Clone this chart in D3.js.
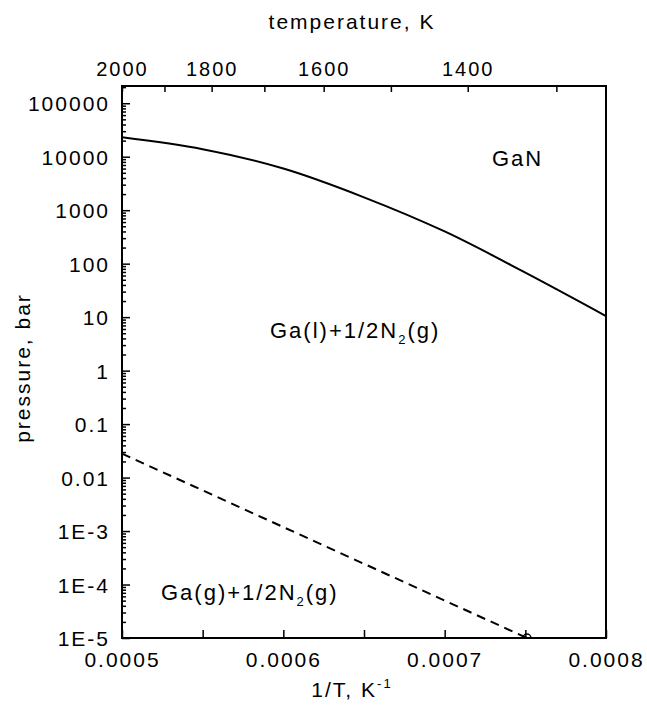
<!DOCTYPE html>
<html>
<head>
<meta charset="utf-8">
<script src="https://cdn.jsdelivr.net/npm/d3@7"></script>
<style>
  body { margin: 0; background: #fff; }
  svg text { font-family: "Liberation Sans", Arial, Helvetica, sans-serif; fill: #000; letter-spacing: 2px; }
</style>
</head>
<body>
<div id="chart"></div>
<script>
// GaN stability line (solid) and Ga vapour line (dashed), x = 1/T
const solidInvT = [0.0005, 0.00055, 0.0006, 0.00065, 0.0007, 0.00075, 0.0008];
const solidP = [23000, 13800, 6000, 1740, 400, 68, 10.5];
const dashInvT = [0.0005, 0.000751];
const dashP = [0.028, 1e-5];

const yTickValues = [1e5, 1e4, 1e3, 100, 10, 1, 0.1, 0.01, 1e-3, 1e-4, 1e-5];
const yTickLabels = ["100000", "10000", "1000", "100", "10", "1", "0.1", "0.01", "1E-3", "1E-4", "1E-5"];
const xTickValues = [0.0005, 0.00055, 0.0006, 0.00065, 0.0007, 0.00075, 0.0008];
const xTickLabels = ["0.0005", "", "0.0006", "", "0.0007", "", "0.0008"];
const tempTicks = [2000, 1900, 1800, 1700, 1600, 1500, 1400, 1300];
const tempLabels = ["2000", "", "1800", "", "1600", "", "1400", ""];

const W = 647, H = 705;
const mLeft = 122, mRight = 606, mTop = 86, mBottom = 638;

const svg = d3.select("#chart").append("svg")
    .attr("width", W)
    .attr("height", H);

const x = d3.scaleLinear().domain([0.0005, 0.0008]).range([mLeft, mRight]);
const y = d3.scaleLog().domain([1e-5, 2.1e5]).range([mBottom, mTop]);

// minor log ticks 2..9 per decade
let minor = [];
for (let e = -5; e <= 5; e++) {
    for (let m = 2; m <= 9; m++) {
        let v = m * Math.pow(10, e);
        if (v <= 2.1e5) minor.push(v);
    }
}

svg.append("g")
    .attr("transform", "translate(" + mLeft + ",0)")
    .call(d3.axisLeft(y).tickValues(minor).tickSize(-4).tickFormat(""))
    .call(g => g.select(".domain").remove());

let yAxis = svg.append("g")
    .attr("transform", "translate(" + mLeft + ",0)")
    .call(d3.axisLeft(y).tickValues(yTickValues).tickSize(-8).tickPadding(12)
        .tickFormat((d, i) => yTickLabels[i]));
yAxis.select(".domain").remove();
yAxis.selectAll("text").attr("font-size", 21).attr("dy", "0.36em");

let xAxis = svg.append("g")
    .attr("transform", "translate(0," + mBottom + ")")
    .call(d3.axisBottom(x).tickValues(xTickValues).tickSize(-8).tickPadding(14)
        .tickFormat((d, i) => xTickLabels[i]));
xAxis.select(".domain").remove();
xAxis.selectAll("text").attr("font-size", 21).attr("dy", "0.71em");

let tAxis = svg.append("g")
    .attr("transform", "translate(0," + mTop + ")")
    .call(d3.axisTop(x).tickValues(tempTicks.map(t => 1 / t)).tickSize(-6).tickPadding(10)
        .tickFormat((d, i) => tempLabels[i]));
tAxis.select(".domain").remove();
tAxis.selectAll("text").attr("font-size", 20);

svg.selectAll(".tick line").attr("stroke", "#000").attr("stroke-width", 1.5);

// frame
svg.append("rect")
    .attr("x", mLeft).attr("y", mTop)
    .attr("width", mRight - mLeft).attr("height", mBottom - mTop)
    .attr("fill", "none").attr("stroke", "#000").attr("stroke-width", 2);

const line = d3.line()
    .x(d => x(d[0]))
    .y(d => y(d[1]))
    .curve(d3.curveCatmullRom);

svg.append("path")
    .datum(d3.zip(solidInvT, solidP))
    .attr("d", line)
    .attr("fill", "none").attr("stroke", "#000").attr("stroke-width", 2);

svg.append("path")
    .datum(d3.zip(dashInvT, dashP))
    .attr("d", d3.line().x(d => x(d[0])).y(d => y(d[1])))
    .attr("fill", "none").attr("stroke", "#000").attr("stroke-width", 2)
    .attr("stroke-dasharray", "9,6");

// small open marker where the dashed line meets the axis
let ex = x(dashInvT[1]), ey = y(dashP[1]);
svg.append("path")
    .attr("d", "M" + (ex - 4) + "," + ey + " A4,4 0 0,1 " + (ex + 4) + "," + ey)
    .attr("fill", "none").attr("stroke", "#000").attr("stroke-width", 1.5);

// titles
svg.append("text")
    .attr("x", 352).attr("y", 29)
    .attr("text-anchor", "middle").attr("font-size", 21)
    .text("temperature, K");

svg.append("text")
    .attr("transform", "translate(30,368) rotate(-90)")
    .attr("text-anchor", "middle").attr("font-size", 21)
    .text("pressure, bar");

let xt = svg.append("text")
    .attr("x", 352).attr("y", 697)
    .attr("text-anchor", "middle").attr("font-size", 21);
xt.append("tspan").text("1/T, K");
xt.append("tspan").attr("font-size", 13).attr("dy", -9).text("-1");

// region labels
svg.append("text")
    .attr("x", 492).attr("y", 166)
    .attr("font-size", 22)
    .text("GaN");

function phaseLabel(px, py, state) {
    let t = svg.append("text").attr("x", px).attr("y", py).attr("font-size", 22);
    t.append("tspan").text("Ga(" + state + ")+1/2N");
    t.append("tspan").attr("font-size", 13).attr("dy", 6).text("2");
    t.append("tspan").attr("dy", -6).text("(g)");
}
phaseLabel(270, 338, "l");
phaseLabel(161, 600, "g");
</script>
</body>
</html>
